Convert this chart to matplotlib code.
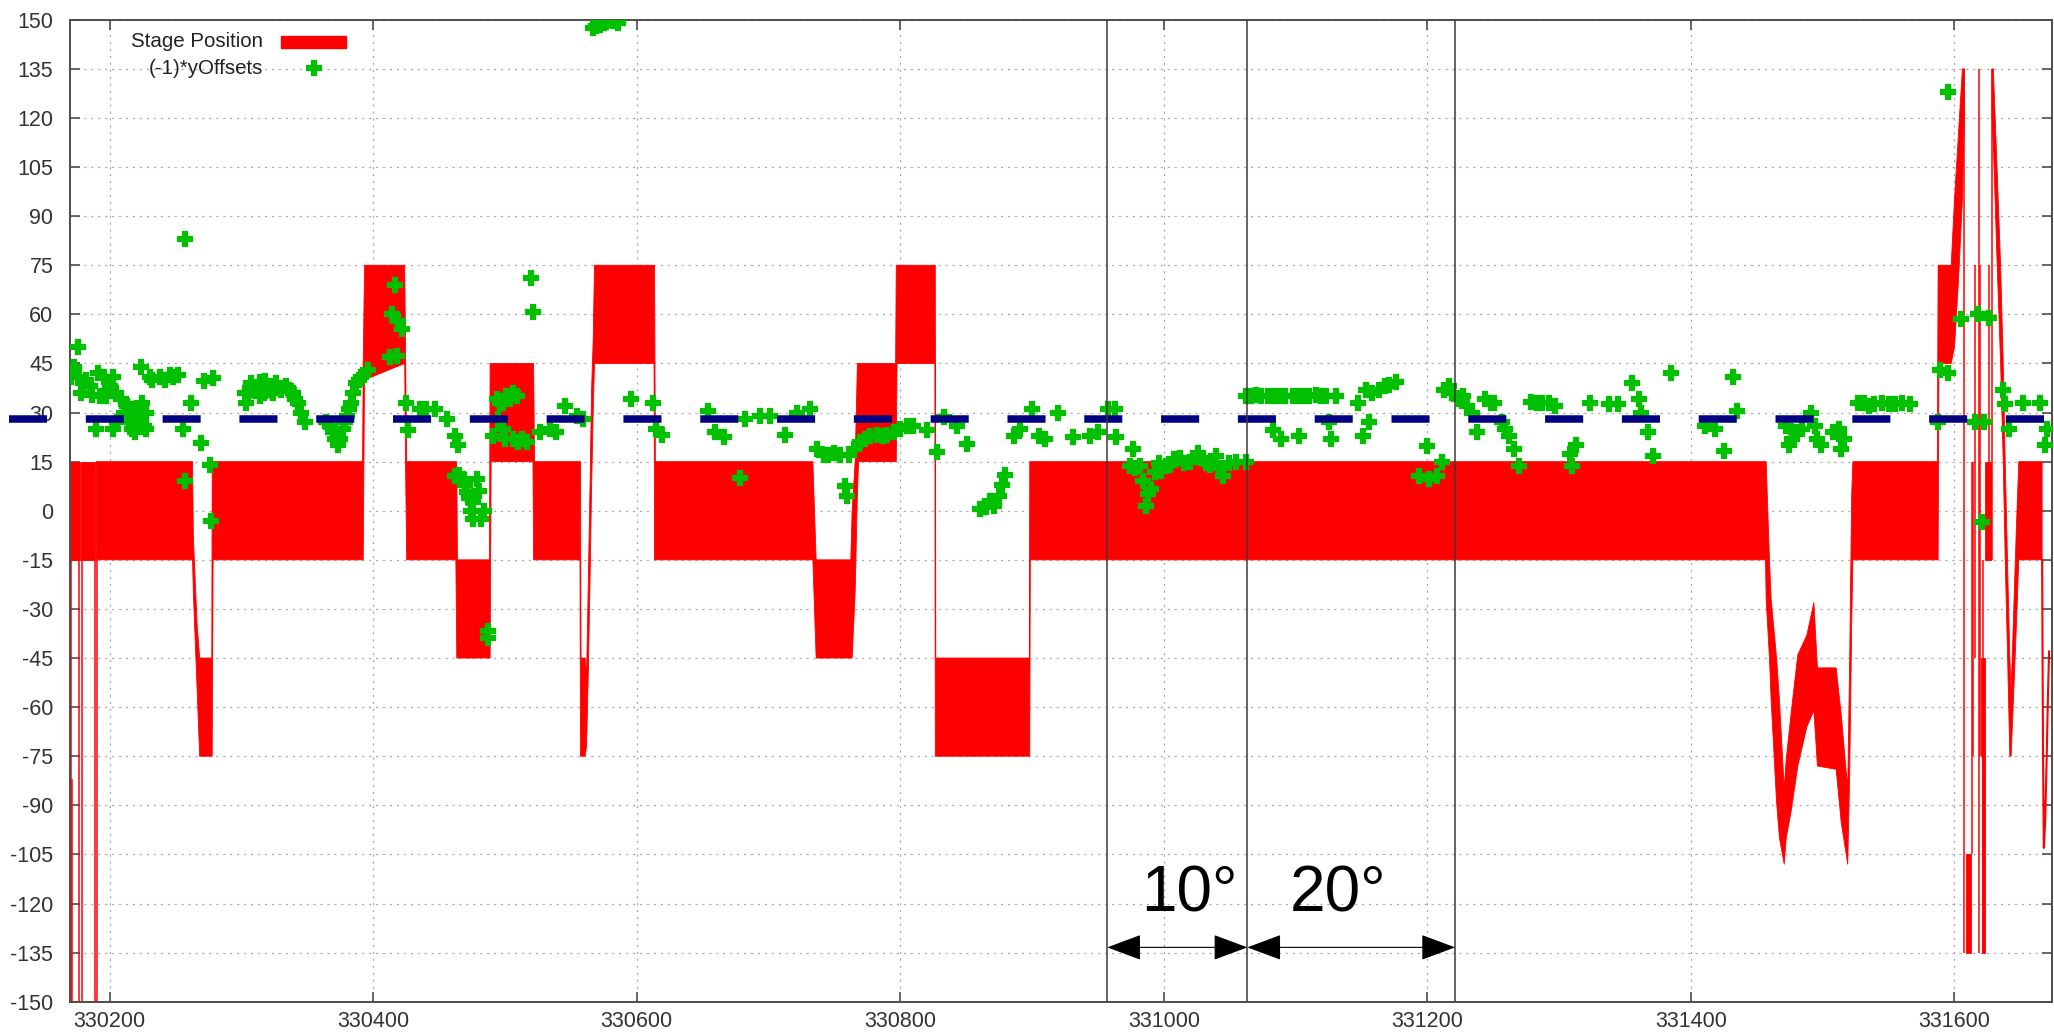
import numpy as np
import matplotlib
matplotlib.use("Agg")
import matplotlib.pyplot as plt

plt.rcParams['font.family'] = ['Liberation Sans', 'DejaVu Sans']
plt.rcParams['lines.scale_dashes'] = False

nan = np.nan

# stage position envelope (x, lower, upper) of the fast oscillating stage trace
stage_x = [330170.0, 330177.6, nan, 330178.4, 330189.1, nan, 330189.8,
           330263.0, 330263.6, 330266.5, 330268.4, 330277.6, 330277.9, 330278.6,
           330392.0, 330392.5, 330393.5, 330424.0, 330424.6, 330425.5,
           330462.8, 330463.5, 330464.0, 330488.3, 330488.8, 330489.6,
           330521.3, 330521.8, 330522.5,
           330557.0, 330557.4, 330557.8, 330560.8, 330562.0, 330563.3, 330564.6,
           330565.8, 330567.0, 330568.0,
           330613.2, 330613.6, 330614.2,
           330733.7, 330736.2, 330762.5, 330763.5, 330765.8, 330767.5, 330768.4,
           330796.5, 330797.0, 330797.6, 330826.3, 330826.6, 330827.0,
           330898.0, 330898.3, 330898.7,
           331456.6, 331457.1, 331459.6, 331460.9, 331465.0, 331467.2, 331470.8,
           331472.3, 331476.0, 331481.1, 331488.0, 331493.3, 331496.0, 331510.2,
           331514.0, 331519.0, 331520.5, 331522.0, 331522.9,
           331587.0, 331587.6, 331588.2, 331597.5, 331600.0, 331603.0, 331606.0, 331607.5,
           nan,
           331628.5, 331629.5, 331632.0, 331635.0, 331637.0, 331638.5, 331640.5,
           331642.0, 331643.0, 331645.0, 331647.0, 331648.8, 331666.5]
stage_lo = [-15, -15, nan, -15, -15, nan, -15,
            -15, -25, -55, -75, -75, -75, -15,
            -15, -15, 40, 45, 15, -15,
            -15, -45, -45, -45, -45, 15,
            15, -15, -15,
            -15, -75, -75, -75, -72, -50, -22,
            7, 30, 45,
            45, -15, -15,
            -15, -45, -45, -45, -25, 5, 15,
            15, 15, 45, 45, -75, -75,
            -75, -75, -15,
            -15, -27, -45, -58, -89, -100, -108,
            -100, -92, -78, -66, -61, -78, -79,
            -95, -108, -80, -35, -15,
            -15, -15, 45, 45, 50, 70, 95, 120,
            nan,
            120, 112, 80, 45, 15, -15, -48,
            -75, -75, -55, -35, -15, -15]
stage_hi = [15, 15, nan, 15, 15, nan, 15,
            15, -8, -35, -45, -45, 15, 15,
            15, 45, 75, 75, 50, 15,
            15, 15, -15, -15, 45, 45,
            45, 45, 15,
            15, 15, -45, -45, -50, -22, 7,
            37, 52, 75,
            75, 75, 15,
            15, -15, -15, 0, 15, 45, 45,
            45, 75, 75, 75, 75, -45,
            -45, 15, 15,
            15, 15, -15, -27, -45, -58, -85,
            -76, -62, -44, -38, -28, -48, -48,
            -62, -85, -45, 5, 15,
            15, 75, 75, 75, 95, 115, 135, 135,
            nan,
            135, 135, 108, 75, 45, 15, -20,
            -45, -55, -30, -5, 15, 15]

# short dense blocks inside the final oscillation (x start, x end, lower, upper)
block_x0 = [331608.8, 331620.9, 331620.5, 331623.5]
block_x1 = [331612.9, 331622.8, 331623.0, 331627.6]
block_lo = [-135, -135, -75, -15]
block_hi = [-105, -75, -45, 15]

# single excursions of the stage (x, lower, upper)
spike_x = [330170.4, 330171.3, 330177.0, 330178.8, 330188.6, 330190.3,
           331607.5, 331613.3, 331614.3, 331615.5, 331618.3, 331619.6, 331621.5,
           331626.3, 331628.8]
spike_lo = [-150, -150, -150, -150, -150, -150,
            -135, -105, -75, -45, -135, -75, -135, -15, -15]
spike_hi = [-15, -82, -15, -15, -15, -15,
            135, 15, 15, 75, 135, 75, -15, 75, 135]

tail_x = [331666.5, 331667.2, 331667.8, 331668.8, 331670.0, 331671.0, 331671.8]
tail_y = [-15, -75, -103, -95, -75, -55, -43]

# (-1)*yOffsets
offset_x = [330171, 330173.4, 330176, 330177, 330179.7, 330178.5, 330187, 330191, 330196, 330202.5,
            330192.4, 330197.5, 330190, 330202.5, 330209, 330211, 330215, 330219, 330223, 330225,
            330228, 330224, 330230.4, 330238, 330245.6, 330252, 330257, 330262, 330255.7, 330257,
            330269.6, 330272, 330278.5, 330276, 330277, 330302.5, 330307.6, 330314, 330320, 330326.6,
            330334, 330339, 330343, 330345.6, 330348, 330303.8, 330314, 330324, 330364.6, 330369.6,
            330373.4, 330377, 330380, 330383.5, 330387, 330391, 330396, 330416.5, 330414, 330419,
            330422, 330413, 330418, 330425.3, 330426.6, 330435.4, 330440.5, 330447, 330455.7, 330462,
            330464.6, 330462, 330468, 330471, 330476, 330478.5, 330476, 330482, 330487, 330487,
            330491, 330493.7, 330498.7, 330503.8, 330509, 330498.7, 330506, 330516.5, 330520, 330521.5,
            330526.6, 330534, 330539, 330545.6, 330554.4, 330559.5, 330567, 330572, 330577, 330582,
            330586, 330596, 330612.7, 330615, 330619, 330654.4, 330659.5, 330666, 330678.5, 330682.3,
            330693.7, 330701, 330712.7, 330721.5, 330731.6, 330736.7, 330741.8, 330754.4, 330760.8, 330758,
            330759.5, 330769.6, 330777, 330787, 330795, 330800, 330805, 330820, 330827.8, 330833,
            330843, 330850.6, 330860.8, 330871, 330874.7, 330879.7, 330886, 330891, 330900, 330905,
            330909.6, 330919.7, 330931, 330943.7, 330950, 330957.6, 330962.6, 330964, 330976.5, 330974,
            330981.6, 330986.6, 330990.4, 330993, 330996.7, 331001.8, 331008, 331015.7, 331025.8, 331032,
            331039.6, 331044.7, 331049.7, 331062.4, 331062.4, 331070, 331078.8, 331082.6, 331088.9, 331087.6,
            331097.7, 331105.3, 331102.8, 331115.4, 331123, 331130.6, 331125.5, 331126.8, 331147, 331153.3,
            331163.4, 331171, 331176, 331155.8, 331150.8, 331200, 331193.7, 331201.3, 331207.6, 331211.4,
            331216.4, 331219, 331224, 331230.3, 331237.9, 331244, 331250.5, 331256.8, 331261.9, 331265.7,
            331269.4, 331279, 331287, 331296.5, 331308.6, 331310, 331312.6, 331323.3, 331338, 331344.8,
            331355.5, 331360.9, 331362, 331367.6, 331371.6, 331385, 331410.5, 331418.5, 331425.2, 331432,
            331434.6, 331472, 331480, 331474.8, 331490.9, 331496, 331512, 331513.7, 331527, 331539,
            331555, 331566, 331587.4, 331588.7, 331595.4, 331595.4, 331604.8, 331618.2, 331626.3, 331615.5,
            331622.2, 331621, 331637, 331638.3, 331641, 331651.7, 331665, 331670.5, 331669,
            # denser parts of the clusters
            330182, 330185, 330200, 330205, 330213, 330217, 330221, 330226, 330232, 330242,
            330248, 330228, 330218, 330206, 330305, 330310, 330317, 330322, 330330, 330336,
            330341, 330318, 330367, 330371, 330375, 330379, 330382, 330385, 330389, 330465,
            330470, 330473, 330480, 330474, 330484, 330495, 330500, 330510, 330513, 330496,
            330501, 330506, 330569, 330575, 330580, 330745, 330750, 330765, 330773, 330782,
            330790, 330810, 330865, 330868, 330877, 330978, 330984, 330988, 330998, 331005,
            331012, 331020, 331028, 331035, 331042, 331055, 331066, 331074, 331083, 331092,
            331101, 331110, 331119, 331158, 331168, 331213, 331227, 331234, 331248, 331259,
            331477, 331484, 331494, 331499, 331508, 331516, 331531, 331535, 331545, 331550,
            331560, 331283, 331292]
offset_y = [41, 44, 50, 41, 39, 36, 35.3, 42, 41, 41,
            35, 35, 25, 25, 34, 30, 27, 24, 27, 33,
            30, 44, 41, 41, 41.4, 41.4, 83, 33, 25, 9,
            20.8, 39.6, 40.6, 14, -3, 36, 39, 39.4, 38, 39,
            38, 36, 33, 30, 27, 33, 35, 36, 27, 24,
            20, 25, 29, 33, 39, 41, 43, 69, 60, 58,
            55.5, 47, 47.4, 33, 24.6, 31, 31, 31, 28, 22.8,
            20, 10.7, 9.7, 5.6, 2.6, 9.7, -2.4, -2.4, -36.8, -38.8,
            22.8, 34, 33, 34, 35, 25, 22, 21, 71, 60.8,
            24, 25, 24, 32, 29, 28, 147.6, 148.4, 149.4, 149.6,
            149, 34, 33, 25, 23, 30.5, 24, 22.4, 10, 28,
            29, 29, 23, 30, 31, 19, 17, 17, 17, 7.7,
            4.6, 21, 22.8, 22.8, 24, 25, 26, 24.6, 18, 28.5,
            26, 20.4, 0.6, 1.6, 4.6, 11, 22.8, 25, 31, 22.8,
            22, 30, 22.4, 22.8, 24, 31, 31, 22.4, 19, 13.7,
            13.7, 1.6, 6.6, 11.7, 14.7, 13.7, 15.7, 14.7, 17.7, 14.7,
            16.7, 10.7, 14.7, 15, 35, 35.3, 35, 24.8, 21.8, 35,
            35, 35, 22.8, 35.3, 35, 35, 27, 21.8, 33, 37,
            37, 38.3, 39.4, 27, 22.8, 19.8, 10.7, 9.7, 10.7, 15,
            38, 36, 34, 32, 24, 34, 33, 27, 22.8, 19,
            13.7, 33.3, 33, 32, 17.3, 13.7, 20, 33, 32.5, 32.5,
            39, 34, 30, 24, 16.7, 42, 26, 25, 18.4, 41,
            30.5, 26, 24, 20, 30, 22, 25, 19, 33, 32.5,
            32.5, 32.5, 27, 43, 42, 128, 58.5, 60, 59, 27,
            27, -3.5, 37, 32.5, 25, 33, 33, 25, 20,
            40, 38, 38, 36, 32, 25, 28, 26, 40, 40,
            41, 25, 31, 27, 36, 37, 36, 37, 37, 37,
            34, 39.5, 26, 22, 22, 27, 31, 36, 40, 11,
            8, 4, 6, 0, 0, 28, 22, 21, 22, 33,
            35, 36, 148, 149, 150, 17, 17.5, 19, 22, 23,
            23, 26, 1, 3, 8, 13, 9, 5, 12, 14,
            16, 15, 16, 14, 13, 15, 35, 35, 35, 35,
            35, 35, 35, 36, 38, 37, 35, 30, 33, 25,
            22, 25, 26, 20, 24, 22, 33, 32, 33, 32.5,
            33, 33, 33]

x_ticks = list(range(330200, 331601, 200))
y_ticks = list(range(-150, 151, 15))

mean_level = 28
marker_x = [330957.1, 331063.4, 331221.0]
arrow_y = -133.4
angle_labels = ['10°', '20°']

fig = plt.figure(figsize=(20.54, 10.36), dpi=100)
ax = fig.add_axes([70 / 2054, 1 - 1001.7 / 1036, 1982 / 2054, 981.9 / 1036])

red = '#ff0000'
green = '#00c000'
ax.fill_between(stage_x, stage_lo, stage_hi, color=red, lw=0.6, zorder=2)
for x0, x1, lo, hi in zip(block_x0, block_x1, block_lo, block_hi):
    ax.fill_between([x0, x1], [lo, lo], [hi, hi], color=red, lw=0.6, zorder=2)
ax.vlines(spike_x, spike_lo, spike_hi, color=red, lw=1.1, zorder=2)
ax.plot(tail_x, tail_y, color=red, lw=1.5, zorder=2)

ax.plot(offset_x, offset_y, ls='none', marker='P', ms=10.5, mfc=green, mec=green,
        mew=1.6, zorder=3)

ax.plot([-0.0308, 1.0], [mean_level, mean_level], transform=ax.get_yaxis_transform(),
        color='#000080', lw=5.4, dashes=(27.4, 27.9), dash_capstyle='butt',
        clip_on=False, zorder=4)

for xv in marker_x:
    ax.axvline(xv, color='#3a3a3a', lw=1.1, zorder=5)
for (x0, x1), lab in zip(zip(marker_x[:-1], marker_x[1:]), angle_labels):
    ax.annotate('', xy=(x1, arrow_y), xytext=(x0, arrow_y),
                arrowprops=dict(arrowstyle='<|-|>,head_length=2.2,head_width=0.82',
                                mutation_scale=10, color='black', lw=0.8,
                                shrinkA=0, shrinkB=0), zorder=6)
ax.text(331019.6, -122.5, angle_labels[0], fontsize=46, ha='center', va='baseline', zorder=6)
ax.text(331132.2, -122.5, angle_labels[1], fontsize=46, ha='center', va='baseline', zorder=6)

ax.set_xlim(330170, 331674)
ax.set_ylim(-150, 150)
ax.set_xticks(x_ticks)
ax.set_yticks(y_ticks)
ax.set_xticklabels([str(v) for v in x_ticks])
ax.set_yticklabels([str(v) for v in y_ticks])
ax.tick_params(direction='in', length=7, width=1.1, top=True, right=True,
               color='#404040', labelcolor='#333333', labelsize=15.5)
ax.tick_params(axis='x', pad=7)
ax.tick_params(axis='y', pad=12)
ax.grid(True, color='#a8a8a8', ls=(0, (1.5, 3.5)), lw=0.9)
ax.set_axisbelow(True)
for s in ax.spines.values():
    s.set_color('#4d4d4d')
    s.set_linewidth(1.4)

# legend (text right-aligned, sample on the right, gnuplot style)
ax.text(0.0974, 0.9777, 'Stage Position', transform=ax.transAxes, ha='right', va='center',
        fontsize=14.8, color='#222222', zorder=7)
ax.text(0.0974, 0.9509, '(-1)*yOffsets', transform=ax.transAxes, ha='right', va='center',
        fontsize=14.8, color='#222222', zorder=7)
ax.add_patch(plt.Rectangle((0.1065, 0.9713), 0.0328, 0.0117, transform=ax.transAxes,
                           color=red, zorder=7, clip_on=False))
ax.plot([0.1231], [0.9509], transform=ax.transAxes, marker='P', ms=10.5, mew=1.6,
        color=green, ls='none', zorder=7)

fig.savefig('out.png', dpi=100)
